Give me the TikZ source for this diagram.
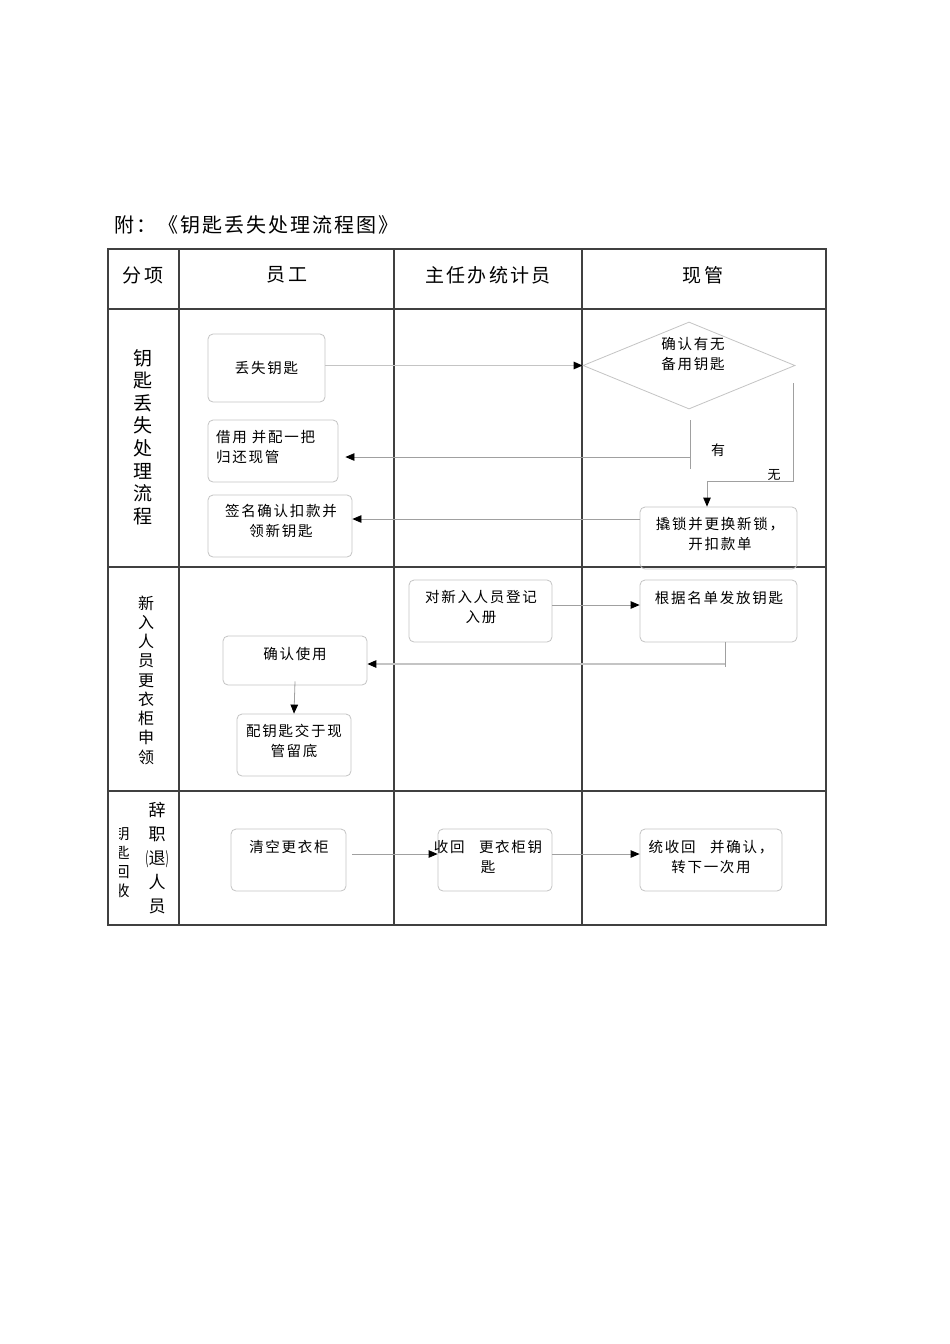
\documentclass[tikz,border=0pt]{standalone}
\usepackage{fontspec}
\setmainfont{Noto Sans CJK SC}
\newfontfamily\cjk[LetterSpace=12]{Noto Sans CJK SC}
\newfontfamily\cjkwide[LetterSpace=10]{Noto Sans CJK SC}
\usetikzlibrary{arrows.meta,shapes.geometric}
\definecolor{tablegray}{HTML}{404040}
\definecolor{boxgray}{HTML}{C4C4C4}
\definecolor{linegray}{HTML}{A0A0A0}
\tikzset{
  tbl/.style={draw=tablegray, line width=1.2pt},
  box/.style={draw=boxgray, line width=0.8pt, rounded corners=5pt, inner sep=0pt},
  txt/.style={font=\cjk\fontsize{14.5}{19.5}\selectfont, align=center, inner sep=0pt, text=black},
  hdr/.style={font=\cjk\fontsize{19}{23}\selectfont, inner sep=0pt},
  ttl/.style={font=\cjkwide\fontsize{20}{24}\selectfont, inner sep=0pt, anchor=west},
  conn/.style={draw=linegray, line width=0.8pt},
  arr/.style={conn, -{Triangle[length=9pt,width=7.5pt,color=black]}},
}
\begin{document}
\begin{tikzpicture}[x=1pt,y=-1pt]
\fill[white] (0,0) rectangle (950,1344);
\useasboundingbox (0,0) rectangle (950,1344);
% title
\node[ttl] (t1) at (114,225) {附：};
\node[ttl] (t2) at (158,225) {《钥匙丢失处理流程图》};
% table
\draw[tbl] (108,249) rectangle (826,925);
\draw[tbl] (108,309) -- (826,309);
\draw[tbl] (108,567) -- (826,567);
\draw[tbl] (108,791) -- (826,791);
\draw[tbl] (179,249) -- (179,925);
\draw[tbl] (394,249) -- (394,925);
\draw[tbl] (582,249) -- (582,925);
% headers
\node[hdr] (h1) at (143,275) {分项};
\node[hdr] (h2) at (287,275) {员工};
\node[hdr] (h3) at (488,275) {主任办统计员};
\node[hdr] (h4) at (703,275) {现管};
% row labels
\node[txt, font=\fontsize{19}{22.6}\selectfont] (r1) at (143,437) {钥\\匙\\丢\\失\\处\\理\\流\\程};
\node[txt, font=\fontsize{16}{19.25}\selectfont] (r2) at (146,680) {新\\入\\人\\员\\更\\衣\\柜\\申\\领};
\node[txt, font=\fontsize{17}{24}\selectfont] (r3) at (157,858) {辞\\职\\\scalebox{0.55}[1]{(}退\scalebox{0.55}[1]{)}\\人\\员};
\begin{scope}
\clip (119,800) rectangle (140,915);
\node[txt, font=\fontsize{15}{19}\selectfont] (r3b) at (122,862) {钥\\匙\\回\\收};
\end{scope}
% row 1
\node[box, minimum width=117pt, minimum height=68pt] (lost) at (266.5,368) {};
\node[txt] (lostT) at (266.5,368) {丢失钥匙};
\node[draw=boxgray, line width=0.8pt, diamond, aspect=2.44, minimum width=212pt, minimum height=87pt, inner sep=0pt] (dia) at (689,365.5) {};
\node[txt] (diaT) at (693,354) {确认有无\\备用钥匙};
\node[box, minimum width=130pt, minimum height=62pt] (borrow) at (273,451) {};
\node[txt, align=left, anchor=west] (borrowT) at (216,447) {借用 并配一把\\归还现管};
\node[box, minimum width=144pt, minimum height=62pt] (sign) at (280,526) {};
\node[txt] (signT) at (281,521) {签名确认扣款并\\领新钥匙};
\node[box, minimum width=157pt, minimum height=62pt] (pry) at (718.5,538) {};
\node[txt] (pryT) at (720,534) {撬锁并更换新锁，\\开扣款单};
% row 2
\node[box, minimum width=143pt, minimum height=62pt] (reg) at (480.5,611) {};
\node[txt] (regT) at (481,607) {对新入人员登记\\入册};
\node[box, minimum width=157pt, minimum height=62pt] (issue) at (718.5,611) {};
\node[txt] (issueT) at (719,598) {根据名单发放钥匙};
\node[box, minimum width=144pt, minimum height=49pt] (confirm) at (295,660.5) {};
\node[txt] (confirmT) at (295,654) {确认使用};
\node[box, minimum width=114pt, minimum height=62pt] (match) at (294,745) {};
\node[txt] (matchT) at (294,741) {配钥匙交于现\\管留底};
% row 3
\node[box, minimum width=115pt, minimum height=62pt] (clear) at (288.5,860) {};
\node[txt] (clearT) at (289,847) {清空更衣柜};
\node[box, minimum width=114pt, minimum height=62pt] (collect) at (495,860) {};
\node[txt] (collectT) at (488,857) {收回\hspace{1em}更衣柜钥\\匙};
\node[box, minimum width=142pt, minimum height=62pt] (final) at (711,860) {};
\node[txt] (finalT) at (711,857) {统收回\hspace{1em}并确认，\\转下一次用};
% labels
\node[txt, font=\fontsize{14}{16}\selectfont] (yes) at (718,450) {有};
\node[txt, font=\fontsize{13}{15}\selectfont] (no) at (774,475) {无};
% connectors
\coordinate (yesTop) at (690,420);
\coordinate (yesBot) at (690,469);
\coordinate (yesJ) at (690,457);
\coordinate (noStart) at (793,383);
\coordinate (noJ) at (707,481);
\coordinate (signY) at (0,519);
\coordinate (regY) at (0,605);
\coordinate (issDown) at (725,667);
\coordinate (issJ) at (725,664);
\coordinate (rowY) at (0,854);
\draw[arr, draw=boxgray, line width=1.3pt] (lost.east |- dia.west) -- (dia.west);
\draw[conn] (yesTop) -- (yesBot);
\draw[arr] (yesJ) -- ([xshift=7pt]borrow.east |- yesJ);
\draw[arr] (noStart) |- (noJ) -- (noJ |- pry.north);
\draw[arr] (pry.west |- signY) -- (sign.east |- signY);
\draw[arr] (reg.east |- regY) -- (issue.west |- regY);
\draw[conn] (issue.south -| issDown) -- (issDown);
\draw[arr, draw=boxgray, line width=1.3pt] (issJ) -- (confirm.east |- issJ);
\draw[arr] ([yshift=4pt]confirm.south) -- (match.north);
\draw[arr] ([xshift=6pt]clear.east |- rowY) -- (collect.west |- rowY);
\draw[arr] (collect.east |- rowY) -- (final.west |- rowY);
\end{tikzpicture}
\end{document}
